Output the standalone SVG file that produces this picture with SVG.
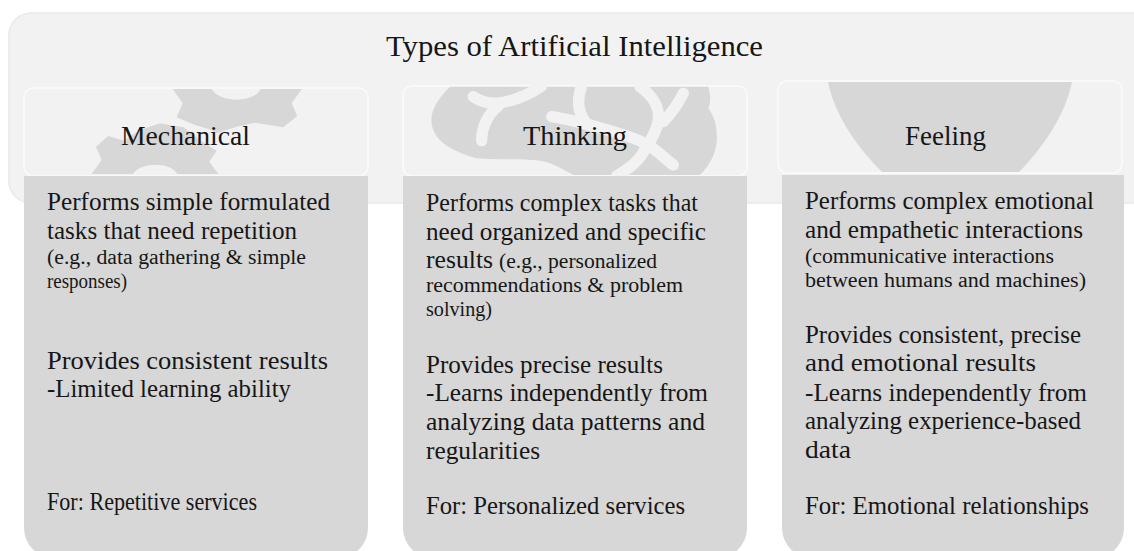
<svg xmlns="http://www.w3.org/2000/svg" width="1134" height="551" viewBox="0 0 1134 551">
<style>
text{font-family:"Liberation Serif","Noto Serif",serif;fill:#161616}
.h{font-size:28px}
.t{font-size:30px}
.b{font-size:26px}
.s{font-size:20.5px}
.outer{fill:#f2f2f2;stroke:#e9e9e9;stroke-width:1.5}
.head{fill:#f2f2f2;stroke:#fbfbfb;stroke-width:1.5}
.body{fill:#d7d7d7}
.art{fill:#d7d7d7}
.vein{fill:none;stroke:#f2f2f2;stroke-width:34;stroke-linecap:round;stroke-linejoin:round}
</style>
<rect width="1134" height="551" fill="#fff"/>
<g id="title">
<rect class="outer" x="9" y="13" width="1150" height="190" rx="22"/>
<text class="t" x="386" y="56" textLength="377" lengthAdjust="spacingAndGlyphs">Types of Artificial Intelligence</text>
</g>
<g id="connectors"/>
<g id="mechanical">
<rect class="head" x="24" y="88" width="344" height="88" rx="9"/>
<g transform="translate(20,80) scale(.3333)">
<path class="art" d="M458 27L488 70L470 112L525 135L575 150L590 160L650 140L705 128L790 142L832 108L815 70L846 27L722 27C700 70 600 70 575 27Z"/>
<path class="art" d="M215 282L245 240L228 200L265 168L312 182L360 150L420 130L490 142L540 180L590 212L568 245L595 282L472 282C450 245 365 245 338 282Z"/>
</g>
<text class="h" x="121" y="145" textLength="129" lengthAdjust="spacingAndGlyphs">Mechanical</text>
<rect class="body" x="24" y="176" width="344" height="382" rx="30"/>
<rect class="body" x="24" y="176" width="344" height="40"/>
<text class="b" x="47" y="210" textLength="283" lengthAdjust="spacingAndGlyphs">Performs simple formulated</text>
<text class="b" x="47" y="239" textLength="250" lengthAdjust="spacingAndGlyphs">tasks that need repetition</text>
<text class="s" x="47" y="264" textLength="259" lengthAdjust="spacingAndGlyphs">(e.g., data gathering &amp; simple</text>
<text class="s" x="47" y="288" textLength="80" lengthAdjust="spacingAndGlyphs">responses)</text>
<text class="b" x="47" y="369" textLength="281" lengthAdjust="spacingAndGlyphs">Provides consistent results</text>
<text class="b" x="47" y="397" textLength="244" lengthAdjust="spacingAndGlyphs">-Limited learning ability</text>
<text class="b" x="47" y="510" textLength="210" lengthAdjust="spacingAndGlyphs">For: Repetitive services</text>
</g>
<g id="thinking">
<rect class="head" x="403" y="86" width="344" height="90" rx="9"/>
<g transform="translate(400,80) scale(.3333)">
<path class="art" d="M150 20C110 60 90 95 95 130C100 175 140 210 230 235C310 242 400 232 450 250C480 262 500 275 520 285L900 285C935 250 955 205 950 160C950 125 935 100 925 85C935 60 930 40 925 20Z"/>
<g class="vein">
<path d="M220 50C250 70 290 75 330 62C370 52 400 35 425 18"/>
<path d="M295 78C265 100 245 140 245 182"/>
<path d="M455 110C490 115 530 125 570 135C620 150 690 165 745 195C775 215 800 240 820 255"/>
<path d="M545 18C530 60 530 100 565 135"/>
<path d="M720 20C755 45 780 80 775 120C770 160 745 190 725 225C710 250 680 270 650 288"/>
<path d="M850 40C835 70 820 95 790 125"/>
</g>
</g>
<text class="h" x="523" y="145" textLength="104" lengthAdjust="spacingAndGlyphs">Thinking</text>
<rect class="body" x="403" y="176" width="344" height="382" rx="30"/>
<rect class="body" x="403" y="176" width="344" height="40"/>
<text class="b" x="426" y="211" textLength="272" lengthAdjust="spacingAndGlyphs">Performs complex tasks that</text>
<text class="b" x="426" y="240" textLength="280" lengthAdjust="spacingAndGlyphs">need organized and specific</text>
<text class="b" x="426" y="268" textLength="67" lengthAdjust="spacingAndGlyphs">results</text>
<text class="s" x="499" y="268" textLength="158" lengthAdjust="spacingAndGlyphs">(e.g., personalized</text>
<text class="s" x="426" y="292" textLength="257" lengthAdjust="spacingAndGlyphs">recommendations &amp; problem</text>
<text class="s" x="426" y="316" textLength="66" lengthAdjust="spacingAndGlyphs">solving)</text>
<text class="b" x="426" y="373" textLength="237" lengthAdjust="spacingAndGlyphs">Provides precise results</text>
<text class="b" x="426" y="401" textLength="282" lengthAdjust="spacingAndGlyphs">-Learns independently from</text>
<text class="b" x="426" y="430" textLength="279" lengthAdjust="spacingAndGlyphs">analyzing data patterns and</text>
<text class="b" x="426" y="459" textLength="114" lengthAdjust="spacingAndGlyphs">regularities</text>
<text class="b" x="426" y="514" textLength="259" lengthAdjust="spacingAndGlyphs">For: Personalized services</text>
</g>
<g id="feeling">
<rect class="head" x="778" y="81" width="344" height="92" rx="9"/>
<path class="art" d="M828 82L1072 82C1065 115 1045 145 1019 172L882 172C855 145 835 115 828 82Z"/>
<text class="h" x="905" y="145" textLength="81" lengthAdjust="spacingAndGlyphs">Feeling</text>
<rect class="body" x="782" y="175" width="342" height="383" rx="30"/>
<rect class="body" x="782" y="175" width="342" height="40"/>
<text class="b" x="805" y="209" textLength="289" lengthAdjust="spacingAndGlyphs">Performs complex emotional</text>
<text class="b" x="805" y="238" textLength="278" lengthAdjust="spacingAndGlyphs">and empathetic interactions</text>
<text class="s" x="805" y="263" textLength="249" lengthAdjust="spacingAndGlyphs">(communicative interactions</text>
<text class="s" x="805" y="287" textLength="281" lengthAdjust="spacingAndGlyphs">between humans and machines)</text>
<text class="b" x="805" y="343" textLength="276" lengthAdjust="spacingAndGlyphs">Provides consistent, precise</text>
<text class="b" x="805" y="371" textLength="231" lengthAdjust="spacingAndGlyphs">and emotional results</text>
<text class="b" x="805" y="401" textLength="282" lengthAdjust="spacingAndGlyphs">-Learns independently from</text>
<text class="b" x="805" y="429" textLength="276" lengthAdjust="spacingAndGlyphs">analyzing experience-based</text>
<text class="b" x="805" y="458" textLength="46" lengthAdjust="spacingAndGlyphs">data</text>
<text class="b" x="805" y="514" textLength="284" lengthAdjust="spacingAndGlyphs">For: Emotional relationships</text>
</g>
</svg>
